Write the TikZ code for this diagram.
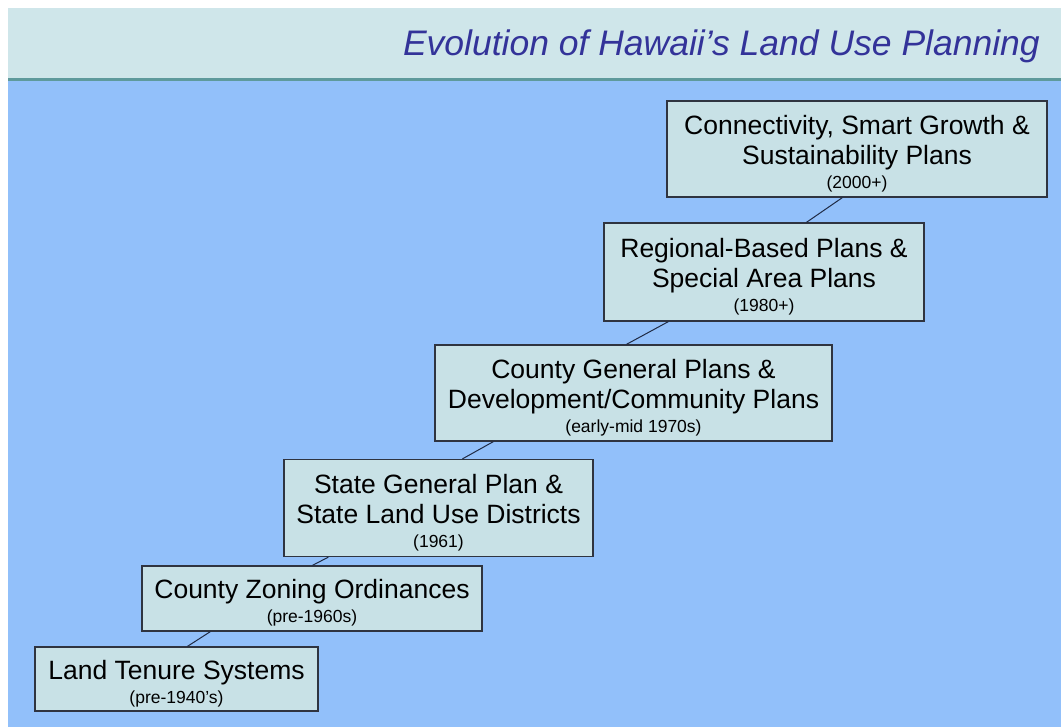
\documentclass[tikz,border=0pt]{standalone}
\usepackage{fontspec}
\setmainfont{Liberation Sans}
\definecolor{bandcol}{HTML}{CFE6EA}
\definecolor{bandline}{HTML}{5E9A9C}
\definecolor{bgblue}{HTML}{92C0FA}
\definecolor{boxfill}{HTML}{C8E1E6}
\definecolor{boxline}{HTML}{2F3440}
\definecolor{titlecol}{HTML}{333399}
\definecolor{linkcol}{HTML}{1F2A44}
\newcommand{\mainfs}{\fontsize{26.5}{30}\selectfont}
\newcommand{\smallfs}{\fontsize{17.5}{24}\selectfont}
\newcommand{\topstrut}{\rule{0pt}{28pt}}
\tikzset{
  stage/.style={draw=boxline, line width=1.2pt, fill=boxfill, rectangle, inner sep=0pt, align=center, text=black, font=\mainfs},
  link/.style={draw=linkcol, line width=1pt}
}
\begin{document}
\begin{tikzpicture}[x=1pt,y=-1pt]
\useasboundingbox (0,0) rectangle (1061,727);
\fill[white] (0,0) rectangle (1061,727);
\fill[bandcol] (8,8) rectangle (1061,78);
\fill[bandline] (8,78) rectangle (1061,81);
\fill[bgblue] (8,81) rectangle (1061,727);
\node[anchor=base east, text=titlecol, font=\fontsize{35.5}{40}\selectfont\itshape, inner sep=0pt] (title) at (1040,56) {Evolution of Hawaii’s Land Use Planning};

\node[stage, minimum width=283pt, minimum height=64pt] (b1) at (176.5,679) {\topstrut Land Tenure Systems\\[-6pt]{\smallfs (pre-1940’s)}};
\node[stage, minimum width=340pt, minimum height=65pt] (b2) at (312,598.5) {\topstrut County Zoning Ordinances\\[-6pt]{\smallfs (pre-1960s)}};
\node[stage, minimum width=309pt, minimum height=97pt] (b3) at (438.5,508) {\topstrut State General Plan \&\\State Land Use Districts\\[-6pt]{\smallfs (1961)}};
\node[stage, minimum width=397pt, minimum height=96pt] (b4) at (633.5,393) {\topstrut County General Plans \&\\Development/Community Plans\\[-6pt]{\smallfs (early-mid 1970s)}};
\node[stage, minimum width=320pt, minimum height=98pt] (b5) at (764,272) {\topstrut Regional-Based Plans \&\\Special Area Plans\\[-6pt]{\smallfs (1980+)}};
\node[stage, minimum width=380pt, minimum height=96pt] (b6) at (857,149) {\topstrut Connectivity, Smart Growth \&\\Sustainability Plans\\[-6pt]{\smallfs (2000+)}};

\draw[link] ([xshift=153pt]b1.north west) -- ([xshift=69pt]b2.south west);
\draw[link] ([xshift=171pt]b2.north west) -- ([xshift=45pt]b3.south west);
\draw[link] ([xshift=179pt]b3.north west) -- ([xshift=59pt]b4.south west);
\draw[link] ([xshift=192pt]b4.north west) -- ([xshift=65pt]b5.south west);
\draw[link] ([xshift=203pt]b5.north west) -- ([xshift=176pt]b6.south west);
\end{tikzpicture}
\end{document}
